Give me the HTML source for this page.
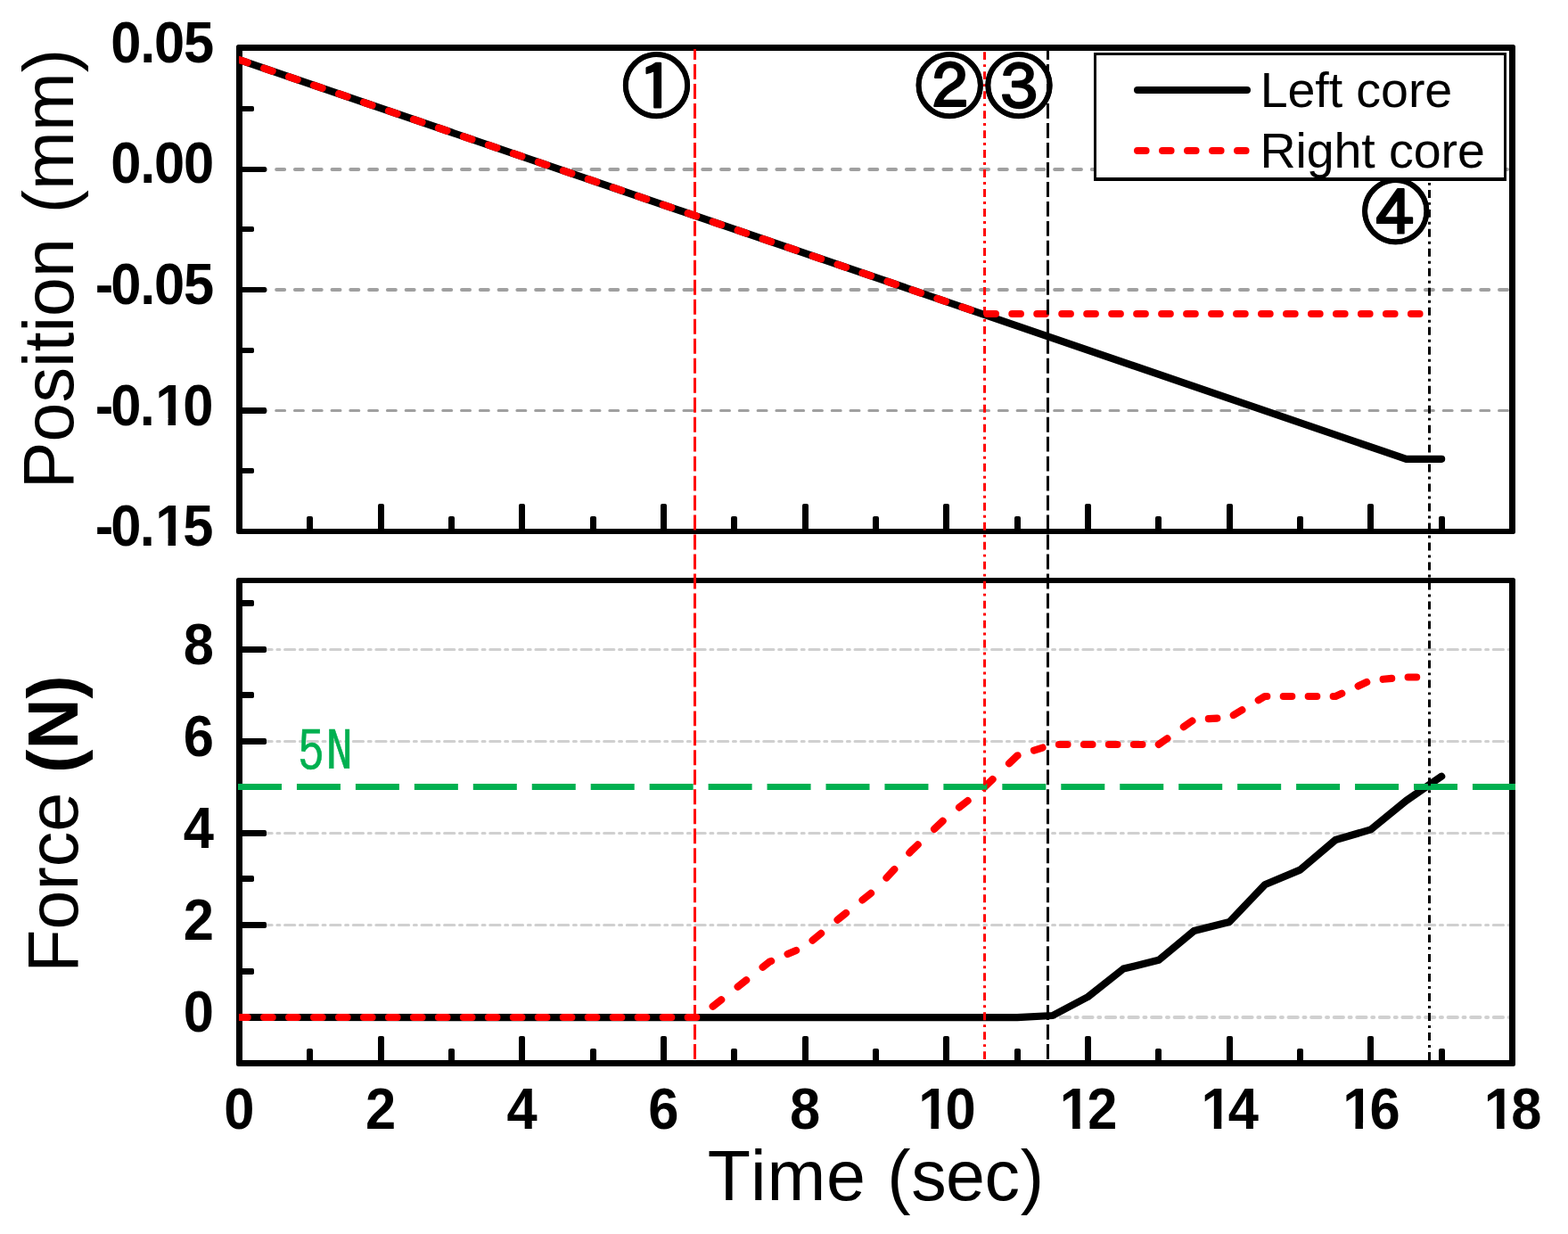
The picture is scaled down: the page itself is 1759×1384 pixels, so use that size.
<!DOCTYPE html>
<html lang="en"><head><meta charset="utf-8"><title>Core position and force vs time</title>
<style>html,body{margin:0;padding:0;background:#fff;overflow:hidden}svg{display:block}</style></head>
<body>
<svg width="1759" height="1384" viewBox="0 0 1759 1384">
<rect width="1759" height="1384" fill="#ffffff"/>
<defs><clipPath id="cpT"><rect x="268" y="57" width="1425" height="536"/></clipPath><clipPath id="cpB"><rect x="268" y="654" width="1425" height="535"/></clipPath></defs>
<g fill="none" stroke="#a0a0a0" stroke-linecap="round">
<path d="M289.36 190 H1693" stroke-width="4" stroke-dasharray="9 11.786"/>
<path d="M289.36 325 H1693" stroke-width="4" stroke-dasharray="9 11.786"/>
<path d="M288.86 460.5 H1693" stroke-width="3" stroke-dasharray="10 10.786"/>
</g>
<g fill="none" stroke="#d0d0d0" stroke-linecap="round">
<path d="M294.42 1141 H1693" stroke-width="4" stroke-dasharray="10.3 6.64 2 6.64"/>
<path d="M293.92 1037.5 H1693" stroke-width="3" stroke-dasharray="11.3 5.64 3 5.64"/>
<path d="M293.92 934.5 H1693" stroke-width="3" stroke-dasharray="11.3 5.64 3 5.64"/>
<path d="M293.92 831.5 H1693" stroke-width="3" stroke-dasharray="11.3 5.64 3 5.64"/>
<path d="M293.92 728.5 H1693" stroke-width="3" stroke-dasharray="11.3 5.64 3 5.64"/>
</g>
<path fill="#000" fill-rule="evenodd" d="M267.5 50 H1697.5 Q1700 50 1700 52.5 V596.5 Q1700 599 1697.5 599 H267.5 Q265 599 265 596.5 V52.5 Q265 50 267.5 50 Z M272 57 V593 H1693 V57 Z"/>
<path fill="#000" fill-rule="evenodd" d="M267.5 648 H1697.5 Q1700 648 1700 650.5 V1193.5 Q1700 1196 1697.5 1196 H267.5 Q265 1196 265 1193.5 V650.5 Q265 648 267.5 648 Z M272 654 V1189 H1693 V654 Z"/>
<g fill="#000">
<rect x="344" y="579" width="7" height="18" rx="2"/>
<rect x="344" y="1176" width="7" height="17" rx="2"/>
<rect x="424" y="565" width="7" height="32" rx="2"/>
<rect x="424" y="1162" width="7" height="31" rx="2"/>
<rect x="503" y="579" width="7" height="18" rx="2"/>
<rect x="503" y="1176" width="7" height="17" rx="2"/>
<rect x="582" y="565" width="7" height="32" rx="2"/>
<rect x="582" y="1162" width="7" height="31" rx="2"/>
<rect x="662" y="579" width="7" height="18" rx="2"/>
<rect x="662" y="1176" width="7" height="17" rx="2"/>
<rect x="741" y="565" width="7" height="32" rx="2"/>
<rect x="741" y="1162" width="7" height="31" rx="2"/>
<rect x="820" y="579" width="7" height="18" rx="2"/>
<rect x="820" y="1176" width="7" height="17" rx="2"/>
<rect x="900" y="565" width="7" height="32" rx="2"/>
<rect x="900" y="1162" width="7" height="31" rx="2"/>
<rect x="979" y="579" width="7" height="18" rx="2"/>
<rect x="979" y="1176" width="7" height="17" rx="2"/>
<rect x="1058" y="565" width="7" height="32" rx="2"/>
<rect x="1058" y="1162" width="7" height="31" rx="2"/>
<rect x="1138" y="579" width="7" height="18" rx="2"/>
<rect x="1138" y="1176" width="7" height="17" rx="2"/>
<rect x="1217" y="565" width="7" height="32" rx="2"/>
<rect x="1217" y="1162" width="7" height="31" rx="2"/>
<rect x="1296" y="579" width="7" height="18" rx="2"/>
<rect x="1296" y="1176" width="7" height="17" rx="2"/>
<rect x="1376" y="565" width="7" height="32" rx="2"/>
<rect x="1376" y="1162" width="7" height="31" rx="2"/>
<rect x="1455" y="579" width="7" height="18" rx="2"/>
<rect x="1455" y="1176" width="7" height="17" rx="2"/>
<rect x="1534" y="565" width="7" height="32" rx="2"/>
<rect x="1534" y="1162" width="7" height="31" rx="2"/>
<rect x="1614" y="579" width="7" height="18" rx="2"/>
<rect x="1614" y="1176" width="7" height="17" rx="2"/>
<rect x="268" y="119" width="17" height="6" rx="1.8"/>
<rect x="268" y="187" width="31" height="6" rx="1.8"/>
<rect x="268" y="254" width="17" height="6" rx="1.8"/>
<rect x="268" y="322" width="31" height="6" rx="1.8"/>
<rect x="268" y="390" width="17" height="6" rx="1.8"/>
<rect x="268" y="457" width="31" height="7" rx="1.8"/>
<rect x="268" y="525" width="17" height="6" rx="1.8"/>
<rect x="268" y="1137" width="31" height="7" rx="1.8"/>
<rect x="268" y="1086" width="17" height="7" rx="1.8"/>
<rect x="268" y="1034" width="31" height="7" rx="1.8"/>
<rect x="268" y="982" width="17" height="7" rx="1.8"/>
<rect x="268" y="931" width="31" height="7" rx="1.8"/>
<rect x="268" y="879" width="17" height="7" rx="1.8"/>
<rect x="268" y="828" width="31" height="7" rx="1.8"/>
<rect x="268" y="776" width="17" height="7" rx="1.8"/>
<rect x="268" y="725" width="31" height="7" rx="1.8"/>
<rect x="268" y="673" width="17" height="7" rx="1.8"/>
</g>
<g clip-path="url(#cpT)" fill="none" stroke-linecap="round" stroke-linejoin="round" stroke-width="8.2">
<path d="M268.5 67.07 L1577.49 514.84 L1617.16 514.84" stroke="#000"/>
<path d="M268.5 67.07 L277.65 70.2 M296.12 76.52 L305.62 79.77 M324.1 86.09 L333.6 89.34 M352.08 95.66 L361.58 98.91 M380.05 105.23 L389.55 108.48 M408.02 114.8 L417.52 118.05 M436 124.37 L445.5 127.62 M463.98 133.94 L473.48 137.18 M491.95 143.5 L501.45 146.75 M519.93 153.07 L529.42 156.32 M547.9 162.64 L557.4 165.89 M575.88 172.21 L585.38 175.46 M603.85 181.78 L613.35 185.03 M631.83 191.35 L641.33 194.6 M659.8 200.92 L669.3 204.17 M687.77 210.49 L697.27 213.74 M715.75 220.06 L725.25 223.31 M743.73 229.63 L753.23 232.88 M771.7 239.2 L781.2 242.45 M799.67 248.77 L809.17 252.02 M827.65 258.34 L837.15 261.59 M855.62 267.91 L865.12 271.16 M883.6 277.48 L893.1 280.73 M911.58 287.05 L921.08 290.3 M939.55 296.62 L949.05 299.87 M967.52 306.18 L977.02 309.43 M995.5 315.75 L1005 319 M1023.48 325.32 L1032.97 328.57 M1051.45 334.89 L1060.95 338.14 M1079.43 344.46 L1088.93 347.71 M1107.4 352.01 L1116.9 352.01 M1135.38 352.01 L1144.88 352.01 M1163.35 352.01 L1172.85 352.01 M1191.33 352.01 L1200.83 352.01 M1219.3 352.01 L1228.8 352.01 M1247.28 352.01 L1256.78 352.01 M1275.25 352.01 L1284.75 352.01 M1303.23 352.01 L1312.73 352.01 M1331.2 352.01 L1340.7 352.01 M1359.18 352.01 L1368.68 352.01 M1387.15 352.01 L1396.65 352.01 M1415.13 352.01 L1424.63 352.01 M1443.1 352.01 L1452.6 352.01 M1471.08 352.01 L1480.58 352.01 M1499.05 352.01 L1508.55 352.01 M1527.03 352.01 L1536.53 352.01 M1555 352.01 L1564.5 352.01 M1582.98 352.01 L1592.48 352.01" stroke="#ff0000"/>
</g>
<g clip-path="url(#cpB)" fill="none" stroke-linecap="round" stroke-linejoin="round" stroke-width="8.2">
<path d="M268.5 1141 L1141.16 1141.2 L1180.83 1139 L1220.5 1118 L1260.16 1086.6 L1299.83 1076.8 L1339.5 1044 L1379.16 1034 L1418.83 992.3 L1458.49 975.6 L1498.16 942 L1537.83 930.4 L1577.49 898 L1617.16 870.7" stroke="#000"/>
<path d="M268.5 1141 L277.65 1141 M296.12 1141 L305.62 1141 M324.1 1141 L333.6 1141 M352.08 1141 L361.58 1141 M380.05 1141 L389.55 1141 M408.02 1141 L417.52 1141 M436 1141 L445.5 1141 M463.98 1141 L473.48 1141 M491.95 1141 L501.45 1141 M519.92 1141 L529.42 1141 M547.9 1141 L557.4 1141 M575.88 1141 L585.38 1141 M603.85 1141 L613.35 1141 M631.83 1141 L641.33 1141 M659.8 1141 L669.3 1141 M687.77 1141 L697.27 1141 M715.75 1141 L725.25 1141 M743.73 1141 L753.23 1141 M771.7 1141 L781.2 1141 M799.67 1128.76 L809.17 1121.26 M827.65 1106.71 L837.15 1099.26 M855.62 1084.77 L863.5 1078.6 L865.12 1077.9 M883.6 1069.98 L893.1 1065.91 M911.58 1054.69 L921.08 1046.88 M939.55 1031.7 L942.83 1029 L949.05 1024.06 M967.52 1009.39 L977.02 1001.85 M994.49 984.5 L1003.26 975 M1020.3 956.52 L1022.16 954.5 L1029.64 947.39 M1048.12 929.83 L1057.62 920.8 M1076.09 905.58 L1085.59 898.11 M1104.07 883.13 L1113.57 874.01 M1132.04 856.26 L1141.16 847.5 L1141.54 847.38 M1160.02 841.56 L1169.52 838.57 M1187.99 835 L1197.49 835 M1215.97 835 L1220.5 835 L1225.47 835 M1243.94 835 L1253.44 835 M1271.92 835 L1281.42 835 M1299.89 834.96 L1309.39 828.25 M1327.87 815.21 L1337.37 808.5 M1355.84 806.11 L1365.34 805.6 M1383.82 802.05 L1393.32 796.34 M1411.79 785.23 L1418.83 781 L1421.29 781 M1439.77 781 L1449.27 781 M1467.74 781 L1477.24 781 M1495.72 781 L1498.16 781 L1505.22 777.8 M1523.69 769.41 L1533.19 765.1 M1551.67 761.78 L1561.17 760.94 M1579.64 759.5 L1589.14 759.5" stroke="#ff0000"/>
</g>
<path d="M267 882.5 H1700" fill="none" stroke="#00b050" stroke-width="7" stroke-dasharray="49 16.95"/>
<g fill="none" stroke-width="3">
<path d="M779.5 1188 V55" stroke="#ff0000" stroke-dasharray="16.95 5.03"/>
<path d="M1104.55 1188.1 V55" stroke="#ff0000" stroke-dasharray="8.9 5.1 2.93 5.05"/>
<path d="M1175.5 1188 V55" stroke="#000" stroke-dasharray="16.95 5.03"/>
<path d="M1603.5 1189 V55" stroke="#000" stroke-dasharray="8.98 5.05 2.95 5"/>
</g>
<g font-family='"IPAGothic","Noto Sans CJK JP","DejaVu Sans",sans-serif' font-size="77" text-anchor="middle" fill="#000" stroke="#000" stroke-width="2.4" stroke-linejoin="round">
<text x="736.5" y="124.76">①</text>
<text x="1065.2" y="124.76">②</text>
<text x="1143" y="124.76">③</text>
<text x="1565.8" y="265.96">④</text>
</g>
<g fill="none" stroke="#000" stroke-width="5.6">
<circle cx="736.5" cy="95.5" r="34.7"/>
<circle cx="1065.2" cy="95.5" r="34.7"/>
<circle cx="1143" cy="95.5" r="34.7"/>
<circle cx="1565.8" cy="236.7" r="34.7"/>
</g>
<rect x="1227" y="59" width="463" height="144" fill="#000"/>
<rect x="1230" y="62" width="457" height="137" fill="#fff"/>
<path d="M1276.1 101 H1398.9" stroke="#000" stroke-width="8.2" stroke-linecap="round" fill="none"/>
<path d="M1276.1 169 H1398.9" stroke="#ff0000" stroke-width="8.2" stroke-linecap="round" stroke-dasharray="9.4 18.6" fill="none"/>
<g font-family='"Liberation Sans",Arial,Helvetica,sans-serif' font-size="55.6" fill="#000">
<text x="1413.7" y="120" letter-spacing="-0.1">Left core</text>
<text x="1413.4" y="187.9" letter-spacing="-0.1">Right core</text>
</g>
<g font-family='"Liberation Sans",Arial,Helvetica,sans-serif' font-size="61.5" font-weight="bold" fill="#000" letter-spacing="-1.3">
<text transform="translate(267.7 1266.4) scale(1 1.065)" text-anchor="middle">0</text>
<text transform="translate(426.37 1266.4) scale(1 1.065)" text-anchor="middle">2</text>
<text transform="translate(585.03 1266.4) scale(1 1.065)" text-anchor="middle">4</text>
<text transform="translate(743.7 1266.4) scale(1 1.065)" text-anchor="middle">6</text>
<text transform="translate(902.36 1266.4) scale(1 1.065)" text-anchor="middle">8</text>
<text transform="translate(1061.78 1266.4) scale(1 1.065)" text-anchor="middle" dx="0 -2.5">10</text>
<text transform="translate(1220.45 1266.4) scale(1 1.065)" text-anchor="middle" dx="0 -2.5">12</text>
<text transform="translate(1379.11 1266.4) scale(1 1.065)" text-anchor="middle" dx="0 -2.5">14</text>
<text transform="translate(1537.78 1266.4) scale(1 1.065)" text-anchor="middle" dx="0 -2.5">16</text>
<text transform="translate(1696.44 1266.4) scale(1 1.065)" text-anchor="middle" dx="0 -2.5">18</text>
<text transform="translate(238.8 69.5) scale(1 1.065)" text-anchor="end">0.05</text>
<text transform="translate(238.8 205.19) scale(1 1.065)" text-anchor="end">0.00</text>
<text transform="translate(238.8 340.88) scale(1 1.065)" text-anchor="end" dx="0 -1.6">-0.05</text>
<text transform="translate(238.2 476.56) scale(1 1.065)" text-anchor="end" dx="0 -1.6 -0.5 1.7 -1.8">-0.10</text>
<text transform="translate(238.2 612.25) scale(1 1.065)" text-anchor="end" dx="0 -1.6 -0.5 1.7 -1.8">-0.15</text>
<text transform="translate(238.6 1157.13) scale(1 1.065)" text-anchor="end">0</text>
<text transform="translate(238.6 1053.99) scale(1 1.065)" text-anchor="end">2</text>
<text transform="translate(238.6 950.85) scale(1 1.065)" text-anchor="end">4</text>
<text transform="translate(238.6 847.7) scale(1 1.065)" text-anchor="end">6</text>
<text transform="translate(238.6 744.56) scale(1 1.065)" text-anchor="end">8</text>
</g>
<path fill="#fff" d="M1032.805 1258.716H1044.486V1267.6H1032.805Z M1052.924 1258.716H1063.823V1267.6H1052.924Z M1191.475 1258.716H1203.156V1267.6H1191.475Z M1211.594 1258.716H1222.493V1267.6H1211.594Z M1350.135 1258.716H1361.816V1267.6H1350.135Z M1370.254 1258.716H1381.153V1267.6H1370.254Z M1508.805 1258.716H1520.486V1267.6H1508.805Z M1528.924 1258.716H1539.823V1267.6H1528.924Z M1667.465 1258.716H1679.146V1267.6H1667.465Z M1687.584 1258.716H1698.483V1267.6H1687.584Z M176.877 468.876H188.557V477.76H176.877Z M196.996 468.876H207.895V477.76H196.996Z M176.877 604.566H188.557V613.45H176.877Z M196.996 604.566H207.895V613.45H196.996Z"/>
<g font-family='"Liberation Sans",Arial,Helvetica,sans-serif' font-size="79" fill="#000">
<text transform="translate(793.8 1345.7)" letter-spacing="0.65" dx="0 2.2 0.3 0 0 1 0 -1.2 -1.2 0">Time (sec)</text>
<text transform="translate(82.2 548.2) rotate(-90)" style="word-spacing:6px">Position (mm)</text>
<text transform="translate(86.8 1090.8) rotate(-90)">Force <tspan font-weight="bold">(N)</tspan></text>
</g>
<text transform="translate(334 864.9) scale(0.95 1)" letter-spacing="2.7" font-family='"IPAGothic","Liberation Mono",monospace' font-size="62" fill="#00b050" stroke="#00b050" stroke-width="0.5">5N</text>
</svg>
</body></html>
